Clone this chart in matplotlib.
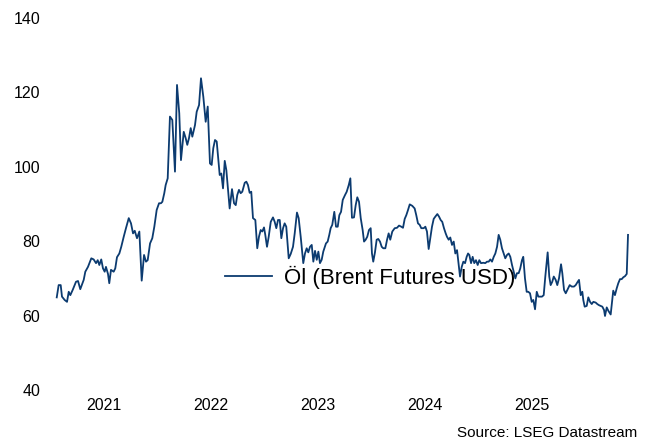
import matplotlib
matplotlib.use("Agg")
import matplotlib.pyplot as plt

# Brent weekly (decimal year, USD)
years = [
    2021.063, 2021.081, 2021.100, 2021.112, 2021.137, 2021.159, 2021.175, 2021.190, 2021.212, 2021.243,
    2021.262, 2021.283, 2021.315, 2021.330, 2021.355, 2021.386, 2021.408, 2021.430, 2021.446, 2021.461,
    2021.479, 2021.495, 2021.511, 2021.523, 2021.542, 2021.554, 2021.570, 2021.595, 2021.610, 2021.626,
    2021.648, 2021.666, 2021.689, 2021.710, 2021.736, 2021.757, 2021.776, 2021.792, 2021.804, 2021.813,
    2021.835, 2021.857, 2021.879, 2021.897, 2021.913, 2021.935, 2021.956, 2021.975, 2021.997, 2022.019,
    2022.037, 2022.050, 2022.068, 2022.081, 2022.100, 2022.121, 2022.143, 2022.168, 2022.187, 2022.208,
    2022.224, 2022.250, 2022.268, 2022.283, 2022.299, 2022.315, 2022.330, 2022.355, 2022.371, 2022.393,
    2022.411, 2022.433, 2022.455, 2022.474, 2022.495, 2022.511, 2022.526, 2022.542, 2022.558, 2022.586,
    2022.601, 2022.617, 2022.633, 2022.648, 2022.664, 2022.679, 2022.701, 2022.720, 2022.736, 2022.750,
    2022.766, 2022.782, 2022.797, 2022.820, 2022.835, 2022.850, 2022.866, 2022.881, 2022.897, 2022.919,
    2022.937, 2022.953, 2022.969, 2022.984, 2023.000, 2023.012, 2023.028, 2023.044, 2023.063, 2023.084,
    2023.100, 2023.115, 2023.131, 2023.147, 2023.162, 2023.178, 2023.193, 2023.208, 2023.231, 2023.250,
    2023.271, 2023.287, 2023.308, 2023.324, 2023.343, 2023.367, 2023.383, 2023.399, 2023.414, 2023.430,
    2023.446, 2023.461, 2023.477, 2023.493, 2023.508, 2023.523, 2023.539, 2023.554, 2023.579, 2023.595,
    2023.610, 2023.623, 2023.638, 2023.657, 2023.673, 2023.689, 2023.704, 2023.720, 2023.736, 2023.757,
    2023.773, 2023.792, 2023.807, 2023.822, 2023.841, 2023.857, 2023.872, 2023.888, 2023.904, 2023.922,
    2023.935, 2023.950, 2023.965, 2023.981, 2023.997, 2024.009, 2024.021, 2024.037, 2024.053, 2024.068,
    2024.084, 2024.100, 2024.115, 2024.134, 2024.150, 2024.165, 2024.180, 2024.199, 2024.222, 2024.243,
    2024.262, 2024.283, 2024.299, 2024.315, 2024.330, 2024.346, 2024.362, 2024.386, 2024.408, 2024.423,
    2024.439, 2024.455, 2024.470, 2024.493, 2024.508, 2024.523, 2024.539, 2024.554, 2024.570, 2024.586,
    2024.601, 2024.620, 2024.636, 2024.651, 2024.666, 2024.682, 2024.698, 2024.710, 2024.726, 2024.741,
    2024.757, 2024.773, 2024.788, 2024.804, 2024.820, 2024.832, 2024.848, 2024.863, 2024.879, 2024.894,
    2024.907, 2024.919, 2024.935, 2024.950, 2024.965, 2024.981, 2024.997, 2025.012, 2025.028, 2025.050,
    2025.068, 2025.084, 2025.100, 2025.115, 2025.131, 2025.147, 2025.162, 2025.178, 2025.193, 2025.208,
    2025.224, 2025.240, 2025.255, 2025.271, 2025.287, 2025.302, 2025.318, 2025.334, 2025.349, 2025.364,
    2025.380, 2025.395, 2025.411, 2025.423, 2025.439, 2025.455, 2025.470, 2025.486, 2025.502, 2025.517,
    2025.533, 2025.549, 2025.564, 2025.579, 2025.598, 2025.614, 2025.629, 2025.651, 2025.666, 2025.679,
    2025.694, 2025.708, 2025.726, 2025.741, 2025.757, 2025.776, 2025.788, 2025.804, 2025.820, 2025.835,
    2025.857, 2025.876, 2025.897, 2025.913, 2025.932, 2025.944, 2025.960, 2025.975, 2025.984, 2025.997,
    2026.016, 2026.031, 2026.047, 2026.063, 2026.078, 2026.100, 2026.115, 2026.131, 2026.147, 2026.162,
    2026.178, 2026.187, 2026.203, 2026.218, 2026.240, 2026.255, 2026.264, 2026.280, 2026.296, 2026.311,
    2026.327, 2026.343, 2026.358, 2026.374, 2026.390, 2026.402,
]
brent = [
    64.9, 68.2, 68.2, 65.1, 64.2, 63.7, 66.4, 65.5, 66.9, 69.1,
    69.3, 67.1, 69.6, 71.8, 73.1, 75.4, 75.1, 74.1, 74.9, 73.6,
    75.1, 72.7, 71.8, 73.1, 71.2, 68.7, 72.3, 71.8, 72.7, 75.7,
    76.7, 78.5, 81.2, 83.5, 86.2, 84.8, 82.1, 82.8, 81.7, 80.8,
    82.6, 69.4, 76.3, 74.5, 74.9, 79.4, 80.8, 83.9, 88.4, 90.2,
    90.2, 90.6, 92.9, 95.1, 96.9, 113.5, 112.6, 98.7, 122.0, 114.4,
    101.8, 109.4, 107.7, 105.9, 107.7, 110.4, 108.1, 111.2, 114.8, 116.6,
    123.8, 118.8, 112.1, 116.2, 100.9, 100.5, 105.0, 107.2, 106.8, 97.8,
    98.2, 94.2, 101.6, 99.1, 93.8, 88.8, 94.0, 90.2, 89.7, 92.4,
    93.8, 92.9, 93.3, 95.7, 96.0, 95.1, 93.0, 93.3, 86.2, 85.7,
    78.1, 81.2, 83.0, 82.6, 83.7, 81.7, 78.5, 81.2, 85.2, 86.4,
    85.2, 83.5, 85.7, 85.7, 80.8, 83.5, 84.8, 83.9, 75.4, 76.6,
    78.5, 82.1, 87.7, 86.2, 81.2, 74.1, 76.7, 78.1, 77.0, 78.5,
    79.0, 74.5, 77.4, 75.0, 77.2, 74.1, 75.0, 77.2, 79.4, 79.9,
    81.7, 83.5, 84.4, 87.9, 83.9, 83.9, 87.0, 87.9, 91.1, 92.4,
    93.3, 95.1, 96.9, 86.3, 86.4, 89.7, 91.8, 90.6, 86.2, 83.0,
    79.9, 80.4, 81.2, 83.0, 83.5, 76.7, 74.5, 77.0, 80.4, 80.6,
    79.9, 78.5, 78.1, 78.1, 80.4, 82.1, 80.4, 82.6, 83.5, 83.6,
    84.2, 83.9, 83.6, 86.0, 87.0, 88.4, 89.9, 89.5, 88.8, 87.0,
    84.8, 84.4, 83.5, 83.5, 83.9, 82.6, 77.9, 80.8, 83.9, 86.0,
    86.6, 87.3, 86.6, 85.7, 85.2, 83.5, 82.1, 81.2, 80.4, 81.0,
    79.0, 79.9, 76.7, 77.6, 73.6, 70.5, 73.1, 74.5, 74.1, 75.8,
    76.7, 76.3, 74.1, 75.8, 74.1, 74.9, 73.6, 74.9, 74.1, 74.2,
    74.1, 74.5, 74.5, 75.1, 74.5, 75.8, 76.7, 78.5, 81.7, 80.4,
    78.1, 76.7, 75.4, 76.3, 76.7, 75.8, 73.6, 71.8, 70.0, 71.4,
    71.4, 72.7, 74.9, 75.8, 70.0, 66.4, 66.4, 66.0, 63.7, 64.2,
    61.7, 66.4, 65.1, 65.1, 65.1, 65.5, 70.5, 77.0, 70.5, 68.2,
    69.1, 70.5, 69.6, 68.2, 70.0, 73.8, 71.4, 66.9, 66.0, 66.9,
    68.2, 67.8, 67.8, 68.2, 69.1, 69.6, 65.5, 66.4, 64.2, 62.4,
    62.6, 64.9, 63.7, 63.1, 63.7, 63.5, 63.1, 62.8, 62.6, 62.4,
    61.5, 59.9, 62.2, 61.3, 60.3, 64.2, 66.7, 65.5, 67.3, 68.7,
    69.8, 69.8, 70.3, 70.6, 71.2, 81.7,
]

year_ticks = [2021.5, 2022.5, 2023.5, 2024.5, 2025.5]
year_labels = ["2021", "2022", "2023", "2024", "2025"]
y_ticks = [40, 60, 80, 100, 120, 140]

plt.rcParams['font.family'] = ['Liberation Sans', 'DejaVu Sans']

fig = plt.figure(figsize=(6.7, 4.46), dpi=100)
ax = fig.add_axes([50 / 670, 56 / 446, 590 / 670, 372 / 446])

ax.plot(years, brent, color="#0c3b70", lw=1.3, label="Öl (Brent Futures USD)")

ax.set_xlim(2021.0, 2026.514)
ax.set_ylim(40, 140)
ax.set_xticks(year_ticks)
ax.set_xticklabels(year_labels)
ax.set_yticks(y_ticks)
ax.tick_params(length=0, labelsize=11.5, colors="black")
ax.tick_params(axis="y", pad=7)
ax.tick_params(axis="x", pad=6)
for s in ax.spines.values():
    s.set_visible(False)

ax.legend(loc="center left", bbox_to_anchor=(225 / 670, 1 - 277 / 446),
          bbox_transform=fig.transFigure, frameon=False, fontsize=16,
          handlelength=2.1, handletextpad=0.55, borderpad=0, borderaxespad=0)

fig.text(637 / 670, 1 - 433 / 446, "Source: LSEG Datastream", ha="right", va="center", fontsize=11)

fig.savefig("out.png", dpi=100)
